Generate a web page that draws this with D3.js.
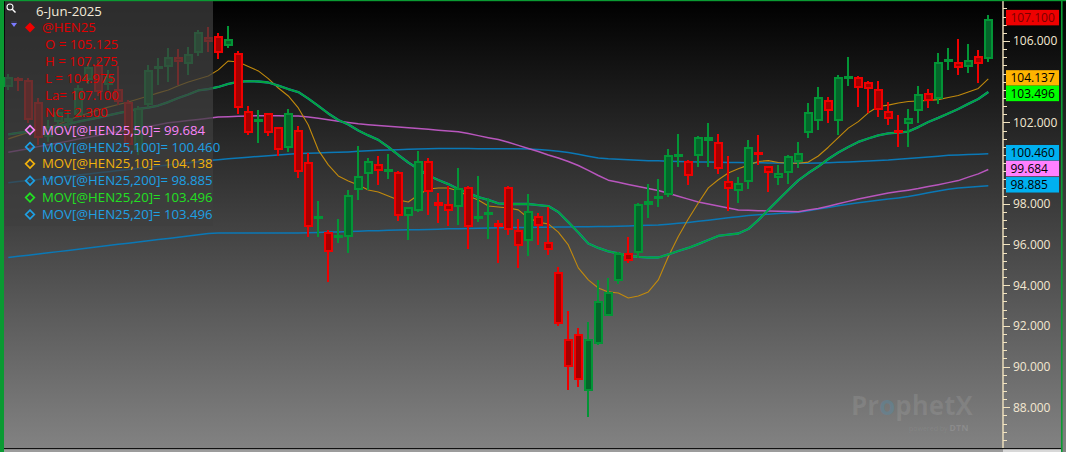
<!DOCTYPE html>
<html><head><meta charset="utf-8">
<script src="https://cdn.jsdelivr.net/npm/d3@7"></script>
<style>html,body{margin:0;padding:0;background:#000;overflow:hidden}svg{display:block}</style>
</head><body>
<svg id="c" width="1066" height="452"></svg>
<script>
// ---------- data ----------
const opens  = [103.750,104.175,104.075,103.000,101.275,102.025,102.025,102.350,104.075,104.825,
                103.850,103.650,103.000,100.650,102.850,104.625,104.725,105.225,104.875,105.400,
                106.200,106.250,105.775,105.400,102.550,102.075,102.450,101.750,100.725,101.625,
                100.075,97.325,96.625,96.375,96.375,98.700,99.450,99.950,99.625,99.575,
                97.400,97.650,100.125,98.100,97.975,97.825,98.825,97.300,97.450,97.050,
                98.825,96.700,96.175,97.425,96.100,94.650,91.350,91.625,88.825,91.100,
                92.500,94.225,95.575,95.600,97.950,98.300,98.425,100.350,100.125,100.350,
                101.100,101.050,99.125,98.625,99.050,100.475,99.850,99.250,99.500,100.075,
                101.500,102.075,103.125,102.075,104.200,104.250,104.000,103.625,102.575,101.575,
                101.900,102.550,103.450,103.150,105.000,104.975,104.725,105.275,105.125];
const highs  = [104.375,104.225,104.175,103.200,102.125,102.700,102.600,103.850,104.925,105.075,
                104.575,104.775,103.100,102.800,104.825,105.150,105.650,105.600,105.700,106.550,
                106.700,106.400,106.725,105.500,102.800,102.600,102.475,101.775,102.650,101.825,
                100.500,98.125,96.700,97.275,98.675,100.850,100.275,100.350,100.450,99.600,
                97.850,100.600,100.250,98.525,98.875,99.750,98.875,99.375,98.275,97.200,
                98.875,97.275,98.475,97.525,97.825,94.900,92.725,91.900,92.200,94.250,
                94.350,95.650,96.350,98.050,98.975,99.200,100.700,101.425,100.150,101.325,
                101.950,101.425,100.350,99.300,101.125,101.375,99.875,99.900,100.400,101.025,
                102.950,103.725,103.225,104.325,105.225,104.275,104.025,104.025,103.025,102.375,
                102.650,103.800,103.625,105.400,105.650,106.075,105.875,105.550,107.275];
const lows   = [103.600,103.550,101.975,100.875,101.025,101.625,101.725,102.225,103.875,103.300,
                103.600,102.850,100.650,100.400,102.700,103.850,103.975,103.850,104.325,105.250,
                105.450,105.100,105.675,102.400,101.375,100.975,101.350,100.325,100.550,99.250,
                96.375,96.350,94.175,96.050,95.600,98.175,98.675,98.900,99.200,97.175,
                96.200,97.575,97.450,97.075,96.925,96.950,95.775,97.125,96.250,95.100,
                96.475,94.825,95.425,95.975,95.475,92.000,88.850,88.975,87.500,91.075,
                92.475,94.050,95.100,95.325,97.325,97.825,98.325,99.800,98.900,99.825,
                99.800,99.450,97.650,98.025,98.725,99.900,98.600,98.925,98.950,99.750,
                101.225,101.625,101.950,101.375,103.800,102.775,102.450,102.250,101.850,100.775,
                100.775,101.950,102.700,102.900,104.575,104.350,104.450,103.950,104.975];
const closes = [104.225,104.075,102.125,101.225,101.825,102.500,102.225,103.700,104.725,103.500,
                104.275,103.000,100.900,102.700,104.575,104.725,105.225,104.975,105.350,106.450,
                105.950,105.425,106.075,102.700,101.500,102.125,101.475,100.650,102.450,99.575,
                96.875,97.375,95.625,96.425,98.425,99.375,100.125,99.600,99.650,97.400,
                97.825,100.125,98.575,97.875,97.650,98.800,96.850,97.325,97.600,96.875,
                96.700,95.925,97.650,96.900,95.725,92.075,90.000,89.350,91.375,93.200,
                93.675,95.600,95.200,97.975,98.150,98.350,100.400,100.400,99.375,101.275,
                101.300,99.700,98.725,99.000,100.775,100.425,99.525,99.525,100.325,100.500,
                102.525,103.250,102.550,104.225,104.250,103.675,103.650,102.600,102.150,101.525,
                102.225,103.375,103.050,104.975,105.050,104.650,105.075,104.875,107.100];

const ma10  = [101.19,101.35,101.50,101.60,101.72,101.90,102.10,102.30,102.45,102.61,
               102.75,102.88,103.00,103.15,103.30,103.45,103.59,103.80,103.99,104.13,
               104.28,104.58,105.02,104.97,104.75,104.53,104.15,103.69,103.30,102.71,
               101.87,100.64,99.91,99.37,99.12,98.92,98.68,98.58,98.38,98.19,
               98.09,98.43,98.73,98.78,98.78,98.63,98.38,98.19,97.89,97.84,
               97.79,97.70,97.30,97.10,97.01,96.61,95.98,94.85,94.26,93.86,
               93.67,93.62,93.37,93.47,93.67,94.26,95.40,96.39,97.25,98.04,
               98.78,99.18,99.51,99.72,99.90,100.08,100.12,100.03,99.99,99.99,
               100.05,100.35,100.78,101.25,101.72,102.04,102.47,102.78,102.85,102.95,
               103.03,103.05,103.08,103.12,103.22,103.32,103.49,103.67,104.138];
const ma20  = [101.41,101.48,101.55,101.63,101.70,101.82,101.92,102.04,102.14,102.24,
               102.34,102.46,102.56,102.66,102.73,102.83,103.00,103.20,103.37,103.57,
               103.64,103.74,103.89,103.99,104.03,104.01,103.96,103.81,103.64,103.49,
               103.17,102.81,102.44,102.12,101.90,101.60,101.36,101.14,100.79,100.40,
               100.03,99.71,99.39,99.17,98.97,98.73,98.53,98.33,98.19,98.02,
               97.99,97.99,97.99,97.94,97.89,97.60,97.10,96.59,96.05,95.83,
               95.66,95.56,95.44,95.39,95.36,95.36,95.51,95.68,95.83,96.02,
               96.22,96.42,96.49,96.54,96.76,97.20,97.70,98.19,98.68,99.15,
               99.51,99.83,100.20,100.52,100.79,101.04,101.21,101.36,101.46,101.50,
               101.55,101.77,102.02,102.22,102.44,102.66,102.91,103.15,103.496];
const ma50  = [100.53,100.62,100.71,100.81,100.90,100.99,101.08,101.18,101.27,101.36,
               101.45,101.54,101.63,101.72,101.80,101.89,101.98,102.03,102.09,102.14,
               102.20,102.26,102.28,102.30,102.32,102.33,102.33,102.33,102.32,102.31,
               102.26,102.20,102.13,102.06,102.00,101.93,101.89,101.85,101.81,101.77,
               101.74,101.70,101.66,101.62,101.58,101.54,101.45,101.35,101.25,101.16,
               101.02,100.87,100.72,100.57,100.40,100.25,100.08,99.88,99.64,99.39,
               99.16,99.06,98.95,98.85,98.75,98.65,98.52,98.37,98.23,98.09,
               97.99,97.89,97.79,97.70,97.68,97.66,97.65,97.64,97.62,97.61,
               97.69,97.77,97.88,98.00,98.12,98.24,98.33,98.43,98.53,98.60,
               98.67,98.75,98.85,98.94,99.04,99.14,99.31,99.47,99.684];
const ma100 = [99.04,99.10,99.15,99.20,99.26,99.31,99.37,99.42,99.47,99.53,
               99.58,99.64,99.69,99.75,99.80,99.86,99.91,99.97,100.02,100.07,
               100.13,100.17,100.21,100.25,100.29,100.33,100.36,100.40,100.44,100.47,
               100.49,100.50,100.52,100.53,100.55,100.58,100.61,100.63,100.64,100.66,
               100.68,100.69,100.71,100.72,100.72,100.72,100.72,100.71,100.71,100.71,
               100.70,100.70,100.69,100.67,100.63,100.58,100.52,100.44,100.34,100.25,
               100.21,100.19,100.17,100.14,100.12,100.11,100.09,100.08,100.07,100.06,
               100.05,100.04,100.03,100.03,100.02,100.02,100.01,100.00,100.00,99.99,
               99.99,100.01,100.02,100.04,100.06,100.08,100.10,100.13,100.15,100.19,
               100.23,100.26,100.30,100.34,100.38,100.40,100.42,100.44,100.46];
const ma200 = [95.36,95.42,95.47,95.53,95.59,95.65,95.71,95.77,95.83,95.89,
               95.95,96.01,96.06,96.12,96.18,96.24,96.30,96.36,96.42,96.48,
               96.54,96.57,96.57,96.57,96.57,96.57,96.57,96.57,96.57,96.57,
               96.58,96.59,96.61,96.62,96.64,96.65,96.67,96.68,96.70,96.71,
               96.72,96.73,96.74,96.75,96.77,96.78,96.79,96.80,96.81,96.82,
               96.83,96.84,96.84,96.85,96.85,96.86,96.86,96.87,96.87,96.88,
               96.89,96.90,96.91,96.93,96.94,96.96,97.00,97.04,97.08,97.14,
               97.19,97.25,97.31,97.36,97.42,97.46,97.49,97.52,97.55,97.59,
               97.66,97.74,97.82,97.90,97.98,98.05,98.11,98.17,98.23,98.29,
               98.36,98.45,98.54,98.63,98.72,98.78,98.81,98.85,98.885];

const legendDate = "6-Jun-2025";
const symbolName = "@HEN25";
const quoteLabels = ["O = ", "H = ", "L = ", "La= ", "NC= "];
const quoteValues = [105.125, 107.275, 104.975, 107.100, 2.300];
const studyNames  = ["MOV[@HEN25,50]", "MOV[@HEN25,100]", "MOV[@HEN25,10]", "MOV[@HEN25,200]", "MOV[@HEN25,20]", "MOV[@HEN25,20]"];
const studyValues = [99.684, 100.460, 104.138, 98.885, 103.496, 103.496];
const tagValues   = [107.100, 104.137, 103.496, 100.460, 99.684, 98.885];
const majorTicks  = [88, 90, 92, 94, 96, 98, 100, 102, 104, 106];

// ---------- setup ----------
const W = 1066, H = 452;
const svg = d3.select("#c");
const defs = svg.append("defs");
const grad = defs.append("linearGradient").attr("id","bg").attr("x1",0).attr("y1",0).attr("x2",0).attr("y2",1);
grad.append("stop").attr("offset","0%").attr("stop-color","#000");
grad.append("stop").attr("offset","100%").attr("stop-color","#838383");
defs.append("clipPath").attr("id","plotclip").append("rect").attr("x",4).attr("y",1).attr("width",999).attr("height",447);

svg.append("rect").attr("width",W).attr("height",H).attr("fill","url(#bg)");

const x = d3.scaleLinear().domain([-0.63, 99.47]).range([2, 1003]);
const y = d3.scaleLinear().domain([86, 108]).range([448, 0.3]);

const plot = svg.append("g").attr("clip-path","url(#plotclip)");

// ---------- moving averages ----------
const line = d3.line().x((d,i)=>x(i)).y(d=>y(d));
const maDefs = [
  {data: ma200, color:"#0a78b6", w:1.5},
  {data: ma100, color:"#0a78b6", w:1.5},
  {data: ma50,  color:"#b856bd", w:1.5},
  {data: ma10,  color:"#c28a0c", w:1.1},
  {data: ma20,  color:"#1a86c0", w:2.3},
  {data: ma20,  color:"#03a63a", w:1.8}
];
plot.selectAll("path.ma").data(maDefs).join("path")
  .attr("class","ma").attr("fill","none")
  .attr("stroke",d=>d.color).attr("stroke-width",d=>d.w)
  .attr("stroke-linejoin","round")
  .attr("d",d=>line(d.data));

// ---------- candles ----------
const UP = "#039536", UPF = "#04652a", DN = "#f00000", DNF = "#a30000";
const candles = d3.range(opens.length).map(i=>({i, o:opens[i], h:highs[i], l:lows[i], c:closes[i]}));
const cg = plot.append("g").attr("shape-rendering","crispEdges");
cg.selectAll("rect.wick").data(candles).join("rect").attr("class","wick")
  .attr("x", d=>Math.round(x(d.i))-1).attr("width",2)
  .attr("y", d=>y(d.h)).attr("height", d=>Math.max(1, y(d.l)-y(d.h)))
  .attr("fill", d=>d.c>=d.o?UP:DN);
function bodyTop(d){ const a=y(Math.max(d.o,d.c)), b=y(Math.min(d.o,d.c)); return (b-a<3)?(a+b)/2-1.5:a; }
function bodyH(d){ const a=y(Math.max(d.o,d.c)), b=y(Math.min(d.o,d.c)); return Math.max(3,b-a); }
cg.selectAll("rect.body").data(candles).join("rect").attr("class","body")
  .attr("x", d=>Math.round(x(d.i))-4).attr("width",9)
  .attr("y", bodyTop).attr("height", bodyH)
  .attr("fill", d=>d.c>=d.o?UP:DN);
cg.selectAll("rect.inner").data(candles.filter(d=>bodyH(d)>5)).join("rect").attr("class","inner")
  .attr("x", d=>Math.round(x(d.i))-2).attr("width",5)
  .attr("y", d=>bodyTop(d)+2).attr("height", d=>bodyH(d)-4)
  .attr("fill", d=>d.c>=d.o?UPF:DNF);

// ---------- watermark ----------
const wm = svg.append("g");
const wt = wm.append("text").attr("x",851).attr("y",415)
  .attr("font-family","'Open Sans','Noto Sans',sans-serif").attr("font-weight","bold").attr("font-size",26)
  .attr("fill","rgba(255,255,255,0.09)");
wt.append("tspan").text("Pr");
wt.append("tspan").attr("fill","rgba(70,150,190,0.28)").text("o");
wt.append("tspan").text("phetX");
const pw = wm.append("text").attr("x",909).attr("y",431).attr("font-family","'Open Sans',sans-serif").attr("font-size",7).attr("fill","rgba(255,255,255,0.07)");
pw.append("tspan").text("powered by ");
pw.append("tspan").attr("font-weight","bold").attr("font-size",9).attr("fill","rgba(255,255,255,0.12)").text("DTN");

// ---------- legend ----------
const lg = svg.append("g").attr("font-family","'Open Sans','Noto Sans',sans-serif").attr("font-size",13.2);
lg.append("rect").attr("x",5).attr("y",0).attr("width",208).attr("height",226).attr("fill","rgba(62,62,62,0.72)");
lg.append("circle").attr("cx",10).attr("cy",7).attr("r",3).attr("fill","none").attr("stroke","#fff").attr("stroke-width",1.1);
lg.append("line").attr("x1",12.3).attr("y1",9.3).attr("x2",15.5).attr("y2",12.5).attr("stroke","#fff").attr("stroke-width",1.4);
lg.append("text").attr("x",36).attr("y",11).attr("dy","0.35em").attr("fill","#f2ead8").text(legendDate);
lg.append("path").attr("d","M11,23 L17,23 L14,27 Z").attr("fill","#7b7bff");
lg.append("line").attr("x1",11).attr("y1",22).attr("x2",17).attr("y2",22).attr("stroke","#3a3a5a").attr("stroke-width",1);
lg.append("path").attr("d","M30,22.5 L35,27.5 L30,32.5 L25,27.5 Z").attr("fill","#f00000");
lg.append("text").attr("x",42).attr("y",27.7).attr("dy","0.35em").attr("fill","#e00000").text(symbolName);
lg.selectAll("text.q").data(quoteLabels).join("text").attr("class","q")
  .attr("x",45).attr("y",(d,i)=>44.3+i*17).attr("dy","0.35em").attr("fill","#e00000")
  .text((d,i)=>d + d3.format(".3f")(quoteValues[i]));
const studyColors = ["#f884f8","#1ea0e4","#f2b20c","#1ea0e4","#22e022","#1ea0e4"];
const sg = lg.selectAll("g.st").data(studyNames).join("g").attr("class","st")
  .attr("transform",(d,i)=>`translate(0,${130+i*16.9})`);
sg.append("path").attr("d","M30,-4.3 L34.3,0 L30,4.3 L25.7,0 Z").attr("fill","none")
  .attr("stroke",(d,i)=>studyColors[i]).attr("stroke-width",1.7);
sg.append("text").attr("x",42).attr("y",0).attr("dy","0.35em").attr("fill",(d,i)=>studyColors[i])
  .text((d,i)=>d + "= " + d3.format(".3f")(studyValues[i]));

// ---------- last value tag positions (stacked top-down, no overlap) ----------
const TH = 15.5;
let prevBottom = -Infinity;
const tagPos = tagValues.map(v=>{ let top = Math.max(y(v)-1-TH/2, prevBottom); prevBottom = top+TH; return top; });
const coveredByTag = v => tagPos.some(t => y(v) > t-4 && y(v) < t+TH+4);

// ---------- right axis ----------
const ax = svg.append("g");
const AX = 1003;
const minor = d3.range(216, 271).map(k=>k*0.4).filter(v=>y(v)>1 && y(v)<447);
ax.selectAll("line.mn").data(minor).join("line").attr("class","mn")
  .attr("x1",AX).attr("x2",AX+4).attr("y1",d=>Math.round(y(d))+0.5).attr("y2",d=>Math.round(y(d))+0.5)
  .attr("stroke","#f3e4c0").attr("stroke-width",1);
ax.selectAll("line.mj").data(majorTicks).join("line").attr("class","mj")
  .attr("x1",AX).attr("x2",AX+7).attr("y1",d=>Math.round(y(d))+0.5).attr("y2",d=>Math.round(y(d))+0.5)
  .attr("stroke","#f3e4c0").attr("stroke-width",1);
ax.append("line").attr("x1",AX).attr("x2",AX).attr("y1",0).attr("y2",448).attr("stroke","#f3e4c0").attr("stroke-width",1.4);
ax.selectAll("text.lb").data(majorTicks.filter(v=>!coveredByTag(v))).join("text").attr("class","lb")
  .attr("x",1013).attr("y",d=>y(d)).attr("dy","0.36em")
  .attr("font-family","'Open Sans','Noto Sans',sans-serif").attr("font-size",12).attr("fill","#f3e8d2")
  .text(d=>d3.format(".3f")(d));

// ---------- last value tags ----------
const tagFill = ["#ee0000","#ffb400","#00ff00","#00b0f0","#ff80ff","#00b0f0"];
const tagText = ["#7a0000","#000","#000","#000","#000","#000"];
const tg = ax.selectAll("g.tag").data(tagValues).join("g").attr("class","tag")
  .attr("transform",(d,i)=>`translate(1006,${tagPos[i]})`);
tg.append("rect").attr("x",0).attr("y",0).attr("width",53).attr("height",TH).attr("fill",(d,i)=>tagFill[i]);
tg.append("text").attr("x",4.5).attr("y",TH/2).attr("dy","0.36em")
  .attr("font-family","'Open Sans','Noto Sans',sans-serif").attr("font-size",12)
  .attr("fill",(d,i)=>tagText[i]).text(d=>d3.format(".3f")(d));

// ---------- frame ----------
svg.append("rect").attr("x",0).attr("y",0).attr("width",4).attr("height",H).attr("fill","#0a9a32");
svg.append("rect").attr("x",0).attr("y",0).attr("width",W).attr("height",1.2).attr("fill","#0a9a32");
svg.append("rect").attr("x",1061).attr("y",0).attr("width",1.6).attr("height",H).attr("fill","#0a9a32");
svg.append("rect").attr("x",4).attr("y",448).attr("width",1057).attr("height",1.3).attr("fill","#111");
svg.append("rect").attr("x",4).attr("y",449.3).attr("width",999).attr("height",2.7).attr("fill","#9c9c9c");
svg.append("rect").attr("x",1003).attr("y",449.3).attr("width",58).attr("height",2.7).attr("fill","#d8d8d8");
</script>
</body></html>
